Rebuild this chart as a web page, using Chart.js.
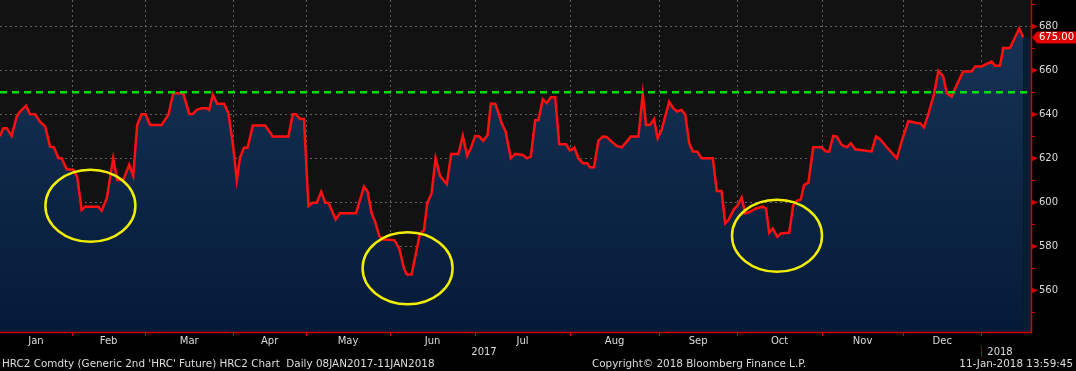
<!DOCTYPE html>
<html>
<head>
<meta charset="utf-8">
<script src="https://cdn.jsdelivr.net/npm/chart.js@4/dist/chart.umd.min.js"></script>
<style>
  html, body { margin: 0; padding: 0; background: #000; }
  canvas { display: block; }
</style>
</head>
<body>
<canvas id="chart" width="1076" height="371"></canvas>
<script>
// trading-session index (x) and HRC2 settle (y)
var sessions = [
	0, 0.8, 1.7, 2.9, 4.2, 5, 6.5, 7.5, 8.8, 10, 11.3, 12.5, 13.5, 14.6, 15.4, 16.7,
	18.3, 19.3, 20.4, 21.3, 24.6, 25.4, 26.7, 28.3, 29.3, 30.8, 32.3, 33.3, 34.3, 35.4,
	36.4, 37.5, 40.4, 42.1, 43.3, 45.8, 47.3, 48.2, 49.2, 50.4, 51.7, 52.3, 53.2, 54.3,
	56, 57.1, 58.3, 59.2, 60, 61, 61.9, 63.2, 66.3, 67.1, 68.2, 72.1, 73.2, 74, 75, 76,
	77.1, 78.2, 79.2, 80.3, 81.3, 82.1, 82.9, 83.9, 85, 89, 91, 91.9, 92.9, 93.8, 94.8,
	95.8, 98.6, 99.8, 101, 101.7, 102.9, 104.3, 105, 106, 106.8, 107.9, 108.9, 110,
	111.7, 112.8, 114.6, 115.7, 116.8, 117.7, 118.8, 119.8, 120.8, 121.9, 122.7, 123.8,
	124.6, 125.4, 126.4, 127.7, 128.8, 130.7, 131.7, 132.7, 133.8, 134.6, 135.7, 136.7,
	137.7, 138.8, 139.8, 141.5, 142.5, 143.6, 144.6, 145.7, 146.8, 147.5, 148.5, 149.6,
	150.7, 151.7, 152.9, 154.2, 155.4, 156.7, 157.7, 159.6, 160.7, 161.5, 162.5, 163.5,
	164.4, 165.4, 167.3, 168.3, 169.3, 170.4, 171.3, 172.3, 173.2, 174.3, 175.4, 178.2,
	179.2, 180.4, 181.3, 182.1, 183.5, 184.3, 185.4, 186.3, 187.5, 189, 190.7, 191.5,
	192.3, 193.2, 194.3, 195.2, 197.3, 198.3, 199.2, 200.2, 201, 202.1, 203.3, 205.4,
	206.5, 207.3, 208.3, 209.2, 210.4, 211.7, 212.7, 213.8, 217.9, 219, 220, 222.3,
	224.2, 225.4, 227.1, 229.3, 230, 231, 232.1, 233.5, 234.6, 235.8, 236.7, 237.9,
	239.2, 240.8, 242.9, 243.8, 245.4, 247.9, 248.8, 250, 250.8, 252.5, 254.8, 255.8
];
var prices = [
	630, 633.7, 633.7, 630.2, 639, 641.3, 643.9, 640, 640, 636.7, 634.4, 625.3, 625, 620, 620, 615,
	614.8, 611.6, 596.5, 598, 598, 596.1, 601.8, 620, 610.1, 610, 617, 612, 635.2, 640,
	640, 635.2, 635.2, 639.8, 649.6, 649.6, 640.2, 640.2, 642, 642.8, 642.8, 642, 648.9, 644.8,
	644.8, 640.5, 625.3, 610.1, 620.3, 624.8, 624.8, 634.9, 634.9, 632.9, 629.9, 629.9, 640, 640, 637.9, 637.9,
	598.3, 599.8, 599.8, 604.8, 599.8, 599.8, 596.5, 592.2, 595, 595, 607.1, 604.8, 595, 591.1, 584.6,
	583.1, 582.8, 579, 569.9, 567.1, 567.1, 579.7, 585.8, 587.3, 599.5, 604.1, 620, 612,
	608.3, 622, 622, 630.2, 621.1, 624.6, 630.2, 629.9, 628, 630.6, 644.8, 644.8,
	640.8, 636, 632.2, 620, 622, 621.5, 620, 620.8, 637.3, 637.3, 646.9, 645.1,
	647.8, 647.8, 626.4, 626.4, 623.5, 624.8, 620, 617.8, 617.8, 615.9, 615.9, 628,
	629.9, 629.7, 627.6, 625.6, 625, 627.6, 629.9, 629.9, 649.3, 635.2, 635.2, 637.8,
	629.1, 632.9, 645.8, 642.8, 641.3, 642, 639.8, 626.9, 623.1, 623.1, 620, 620,
	605.1, 605.1, 590.4, 591.9, 596.9, 598.3, 602.1, 595, 595.7, 597.2, 598, 597.2,
	586.1, 588.1, 584.3, 585.8, 586.1, 598.7, 600.7, 601.3, 607.8, 608.9, 625, 625,
	623.1, 623.1, 630.2, 629.9, 626.1, 625, 626.9, 624.1, 623.1, 629.9, 628.7, 623.8,
	620, 627.6, 637, 636, 636, 634.1, 640.2, 649.2, 659.8, 657.2, 649.6, 648.1,
	653.4, 659.5, 659.5, 661.8, 661.8, 664, 662.1, 662.1, 670.2, 670.2, 679, 675
];

var monthStarts = [18, 36.3, 58.3, 76.5, 97.5, 118.8, 142.5, 164.8, 184.3, 205.5, 225.8, 245.3];
var monthLabels = ['Jan', 'Feb', 'Mar', 'Apr', 'May', 'Jun', 'Jul', 'Aug', 'Sep', 'Oct', 'Nov', 'Dec'];
var yearLabels = ['2017', '2018'];
var yearAt = [121, 250];
var priceTicks = [550, 560, 570, 580, 590, 600, 610, 620, 630, 640, 650, 660, 670, 680, 690];
var resistance = 650;
var lastPrice = 675;
// circled lows: [session, price]
var circledLows = [[22.6, 598.4], [101.9, 570], [194.25, 584.8]];

var footerLeft = "HRC2 Comdty (Generic 2nd 'HRC' Future) HRC2 Chart  Daily 08JAN2017-11JAN2018";
var footerMid = 'Copyright\u00a9 2018 Bloomberg Finance L.P.';
var footerRight = '11-Jan-2018 13:59:45';

var X_MAX = 257.75;
var RED = '#d40000';
var TEXT = '#dcdcdc';
var FONT = '10px "DejaVu Sans", Verdana, sans-serif';

var points = sessions.map(function (s, i) {
	return { x: s, y: prices[i] };
});

function areaFill(context) {
	var area = context.chart.chartArea;
	if (!area) {
		return '#0b2646';
	}
	var g = context.chart.ctx.createLinearGradient(0, area.top, 0, area.bottom);
	g.addColorStop(0, '#173558');
	g.addColorStop(1, '#051a38');
	return g;
}

// no room reserved for half-labels at the scale ends
function noEndPadding(scale) {
	scale.paddingTop = 0;
	scale.paddingBottom = 0;
	scale.paddingLeft = 0;
	scale.paddingRight = 0;
}

var bbgPlugin = {
	id: 'bbg',
	beforeDraw: function (chart) {
		var ctx = chart.ctx,
			a = chart.chartArea;
		ctx.save();
		ctx.fillStyle = '#000';
		ctx.fillRect(0, 0, chart.width, chart.height);
		ctx.fillStyle = '#121212';
		ctx.fillRect(a.left, a.top, a.right - a.left, a.bottom - a.top);
		ctx.restore();
	},
	afterDatasetsDraw: function (chart) {
		var ctx = chart.ctx,
			xs = chart.scales.x,
			ys = chart.scales.y;
		ctx.save();
		ctx.strokeStyle = '#f2ee00';
		ctx.lineWidth = 2.5;
		circledLows.forEach(function (c) {
			ctx.beginPath();
			ctx.ellipse(xs.getPixelForValue(c[0]), ys.getPixelForValue(c[1]), 45, 36, 0, 0, Math.PI * 2);
			ctx.stroke();
		});
		ctx.restore();
	},
	afterDraw: function (chart) {
		var ctx = chart.ctx,
			a = chart.chartArea,
			xs = chart.scales.x,
			ys = chart.scales.y,
			i, py, px;
		ctx.save();

		// axis lines
		ctx.strokeStyle = RED;
		ctx.lineWidth = 1.5;
		ctx.beginPath();
		ctx.moveTo(a.left, a.bottom + 0.5);
		ctx.lineTo(a.right + 0.5, a.bottom + 0.5);
		ctx.lineTo(a.right + 0.5, a.top);
		ctx.stroke();

		// price ticks: arrows on 20s, short dashes between
		ctx.fillStyle = RED;
		ctx.lineWidth = 1;
		priceTicks.forEach(function (v) {
			py = Math.round(ys.getPixelForValue(v)) + 0.5;
			if (v % 20 === 0) {
				ctx.beginPath();
				ctx.moveTo(a.right, py - 3);
				ctx.lineTo(a.right + 7, py);
				ctx.lineTo(a.right, py + 3);
				ctx.closePath();
				ctx.fill();
			} else {
				ctx.beginPath();
				ctx.moveTo(a.right, py);
				ctx.lineTo(a.right + 4, py);
				ctx.stroke();
			}
		});

		// month ticks
		monthStarts.forEach(function (m) {
			px = Math.round(xs.getPixelForValue(m)) + 0.5;
			ctx.beginPath();
			ctx.moveTo(px, a.bottom);
			ctx.lineTo(px, a.bottom + 4);
			ctx.stroke();
		});

		// month labels centred between boundaries
		ctx.font = FONT;
		ctx.fillStyle = TEXT;
		ctx.textAlign = 'center';
		ctx.textBaseline = 'middle';
		var bounds = [0].concat(monthStarts);
		for (i = 0; i < monthLabels.length; i++) {
			px = (xs.getPixelForValue(bounds[i]) + xs.getPixelForValue(bounds[i + 1])) / 2;
			ctx.fillText(monthLabels[i], px, a.bottom + 9);
		}

		// years
		for (i = 0; i < yearLabels.length; i++) {
			ctx.fillText(yearLabels[i], xs.getPixelForValue(yearAt[i]), a.bottom + 20);
		}
		px = Math.round(xs.getPixelForValue(monthStarts[monthStarts.length - 1])) + 0.5;
		ctx.strokeStyle = '#a00000';
		ctx.beginPath();
		ctx.moveTo(px, a.bottom + 14);
		ctx.lineTo(px, a.bottom + 25);
		ctx.stroke();

		// last value tag
		py = ys.getPixelForValue(lastPrice);
		ctx.fillStyle = '#e00000';
		ctx.beginPath();
		ctx.moveTo(a.right + 1, py);
		ctx.lineTo(a.right + 6, py - 6);
		ctx.lineTo(chart.width, py - 6);
		ctx.lineTo(chart.width, py + 6);
		ctx.lineTo(a.right + 6, py + 6);
		ctx.closePath();
		ctx.fill();
		ctx.fillStyle = '#fff';
		ctx.textAlign = 'left';
		ctx.fillText(lastPrice.toFixed(2), a.right + 8, py + 0.5);

		// footer
		ctx.fillStyle = TEXT;
		ctx.font = '10.4px "DejaVu Sans", Verdana, sans-serif';
		ctx.textAlign = 'left';
		ctx.fillText(footerLeft, 2, a.bottom + 32);
		ctx.fillText(footerMid, 592, a.bottom + 32);
		ctx.textAlign = 'right';
		ctx.fillText(footerRight, chart.width - 3, a.bottom + 32);

		ctx.restore();
	}
};

new Chart(document.getElementById('chart'), {
	type: 'line',
	data: {
		datasets: [
			{
				// resistance level
				data: [{ x: 0, y: resistance }, { x: X_MAX - 0.8, y: resistance }],
				borderColor: '#00e000',
				borderWidth: 2.5,
				borderDash: [7, 5],
				pointRadius: 0,
				fill: false
			},
			{
				data: points,
				borderColor: '#ff1010',
				borderWidth: 2.5,
				pointRadius: 0,
				tension: 0,
				fill: 'start',
				backgroundColor: areaFill
			},
			{
				// shading past the last print
				data: [{ x: sessions[sessions.length - 1], y: lastPrice }, { x: X_MAX, y: lastPrice }],
				borderWidth: 0,
				borderColor: 'rgba(0,0,0,0)',
				pointRadius: 0,
				fill: 'start',
				backgroundColor: '#0c1c32'
			}
		]
	},
	options: {
		responsive: false,
		animation: false,
		devicePixelRatio: 1,
		layout: { padding: 0 },
		plugins: {
			legend: { display: false },
			tooltip: { enabled: false }
		},
		scales: {
			x: {
				type: 'linear',
				min: 0,
				max: X_MAX,
				afterBuildTicks: function (scale) {
					scale.ticks = monthStarts.map(function (v) {
						return { value: v };
					});
				},
				afterFit: function (scale) {
					scale.height = 39;
					noEndPadding(scale);
				},
				ticks: { display: false },
				grid: {
					color: 'rgba(160,160,160,0.55)',
					lineWidth: 1,
					drawTicks: false
				},
				border: { display: false, dash: [2, 3] }
			},
			y: {
				position: 'right',
				min: 541,
				max: 692,
				afterBuildTicks: function (scale) {
					scale.ticks = priceTicks.map(function (v) {
						return { value: v };
					});
				},
				afterFit: function (scale) {
					scale.width = 45;
					noEndPadding(scale);
				},
				ticks: {
					padding: 8,
					color: TEXT,
					font: { family: '"DejaVu Sans", Verdana, sans-serif', size: 10 },
					callback: function (v) {
						return v % 20 === 0 ? String(v) : '';
					}
				},
				grid: {
					color: function (c) {
						return c.tick && c.tick.value % 20 === 0 ? 'rgba(160,160,160,0.55)' : 'rgba(0,0,0,0)';
					},
					lineWidth: 1,
					drawTicks: false
				},
				border: { display: false, dash: [2, 3] }
			}
		}
	},
	plugins: [bbgPlugin]
});
</script>
</body>
</html>
